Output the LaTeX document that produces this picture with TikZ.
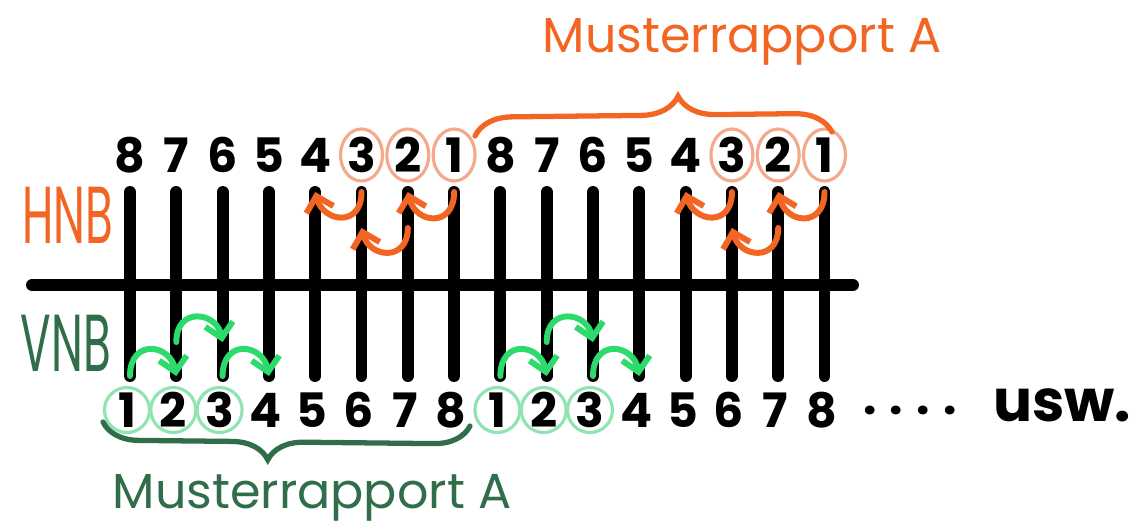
\documentclass[tikz,border=0pt]{standalone}
\usepackage{fontspec}
\setmainfont{Poppins}
\usepackage{graphicx}
\usetikzlibrary{arrows.meta, shapes.geometric, decorations.pathreplacing}
\definecolor{hnborange}{HTML}{F26522}
\definecolor{hnbring}{HTML}{F5A98C}
\definecolor{vnbgreen}{HTML}{2DDA6C}
\definecolor{vnbring}{HTML}{90E4B0}
\definecolor{vnbdark}{HTML}{2F6E49}

\begin{document}
\begin{tikzpicture}[
  x=0.02cm, y=-0.02cm,
  num/.style={font=\fontsize{27}{27}\selectfont\bfseries, inner sep=0pt},
  ocirc/.style={ellipse, draw=hnbring, line width=1.8pt, minimum width=0.84cm, minimum height=1.04cm, inner sep=0pt},
  gcirc/.style={circle, draw=vnbring, line width=1.8pt, minimum size=0.9cm, inner sep=0pt},
  needle/.style={line width=6.8pt, line cap=round},
  harr/.style={hnborange, line width=3.4pt, line cap=round, -{Straight Barb[length=2.8mm, width=5.6mm]}},
  varr/.style={vnbgreen, line width=3.4pt, line cap=round, -{Straight Barb[length=2.8mm, width=5.6mm]}},
  bedlabel/.style={font=\fontsize{46}{46}\selectfont, inner sep=0pt},
  rapport/.style={font=\fontsize{28}{28}\selectfont, inner sep=0pt},
  obrace/.style={hnborange, line width=3pt, line cap=round, decorate, decoration={brace, amplitude=0.75cm, aspect=0.57}},
  gbrace/.style={vnbdark, line width=3pt, line cap=round, decorate, decoration={brace, amplitude=0.72cm, aspect=0.55}},
]
\useasboundingbox (0,0) rectangle (1136,529);

% Needles and needle bed
\foreach \i in {1,...,16} {
  \pgfmathsetmacro\xx{130+(\i-1)*46.3}
  \coordinate (nt\i) at (\xx,192);
  \coordinate (nb\i) at (\xx,376);
  \coordinate (hm\i) at (\xx,228);
  \coordinate (lm\i) at (\xx,342);
  \draw[needle] (nt\i) -- (nb\i);
}
\coordinate (hl) at (32,285);
\coordinate (hr) at (853,285);
\draw[needle] (hl) -- (hr);

% Needle numbers
\foreach \lab [count=\i] in {8,7,6,5,4,3,2,1,8,7,6,5,4,3,2,1} {
  \pgfmathsetmacro\xx{130+(\i-1)*46.3}
  \node[num] (t\i) at (\xx,155) {\lab};
}
\foreach \lab [count=\i] in {1,2,3,4,5,6,7,8,1,2,3,4,5,6,7,8} {
  \pgfmathsetmacro\xx{127+(\i-1)*46.3}
  \node[num] (b\i) at (\xx,410) {\lab};
}
\foreach \k in {t6,t7,t8,t14,t15,t16}
  \node[ocirc] (c\k) at (\k) {};
\foreach \k in {b1,b2,b3,b9,b10,b11}
  \node[gcirc] (c\k) at (\k) {};

\node[num] (dots) at (910,410) {. . . .};
\node[font=\fontsize{33}{33}\selectfont\bfseries, inner sep=0pt] (usw) at (1062,405) {usw.};

% Bed labels
\node[bedlabel, text=hnborange] (hnb) at (68,215) {\scalebox{0.56}[1]{HNB}};
\node[bedlabel, text=vnbdark] (vnb) at (66,343) {\scalebox{0.56}[1]{VNB}};

% HNB arrows
\draw[harr] (nt8) .. controls +(0,36) and +(8,32) .. (nt7);
\draw[harr] (nt6) .. controls +(0,36) and +(8,30) .. (nt5);
\draw[harr] (hm7) .. controls +(0,34) and +(8,30) .. (hm6);
\draw[harr] (nt16) .. controls +(0,36) and +(8,32) .. (nt15);
\draw[harr] (nt14) .. controls +(0,36) and +(8,30) .. (nt13);
\draw[harr] (hm15) .. controls +(0,34) and +(8,30) .. (hm14);

% VNB arrows
\draw[varr] (nb1) .. controls +(0,-38) and +(-6,-32) .. (nb2);
\draw[varr] (nb3) .. controls +(0,-38) and +(-6,-32) .. (nb4);
\draw[varr] (lm2) .. controls +(0,-36) and +(-6,-30) .. (lm3);
\draw[varr] (nb9) .. controls +(0,-38) and +(-6,-32) .. (nb10);
\draw[varr] (nb11) .. controls +(0,-38) and +(-6,-32) .. (nb12);
\draw[varr] (lm10) .. controls +(0,-36) and +(-6,-30) .. (lm11);

% Musterrapport braces
\coordinate (ob1) at (475,136);
\coordinate (ob2) at (832,132);
\draw[obrace] (ob1) -- (ob2);
\node[rapport, text=hnborange] (rapA) at (742,42) {Musterrapport A};
\coordinate (gb1) at (470,426);
\coordinate (gb2) at (103,422);
\draw[gbrace] (gb1) -- (gb2);
\node[rapport, text=vnbdark] (rapB) at (312,498) {Musterrapport A};

\end{tikzpicture}
\end{document}
